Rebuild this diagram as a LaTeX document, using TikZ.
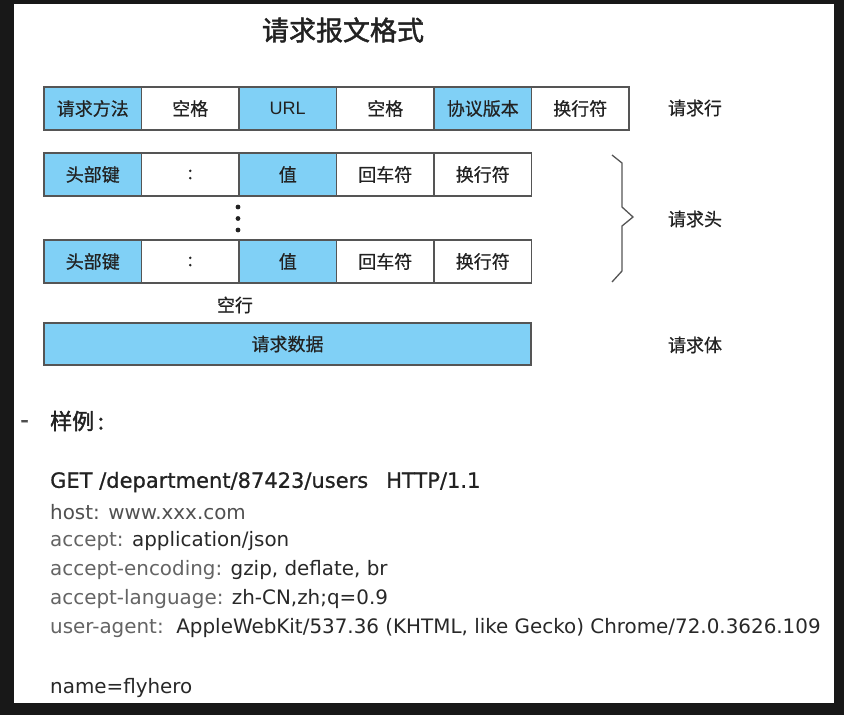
\documentclass[tikz,border=0pt]{standalone}
\usepackage{fontspec}
\setmainfont{Liberation Sans}
\newfontfamily\cjk[FakeBold=0.6]{Noto Sans CJK SC}
\newfontfamily\cjkb[FakeBold=1.6]{Noto Sans CJK SC}
\newfontfamily\codefont{DejaVu Sans}
\newfontfamily\codefontb[FakeBold=0.8]{DejaVu Sans}
\definecolor{cellblue}{RGB}{128,208,246}
\definecolor{bord}{RGB}{85,85,85}
\definecolor{txt}{RGB}{34,34,34}
\definecolor{valgray}{RGB}{40,40,40}
\definecolor{keygray}{RGB}{100,100,100}
\definecolor{frame}{RGB}{24,24,24}
\begin{document}
\begin{tikzpicture}[x=1pt,y=-1pt,
  cell/.style={draw=bord, line width=1.2pt, minimum width=97.5pt, minimum height=43pt, inner sep=0pt, text=txt, font=\cjk\fontsize{18}{18}\selectfont},
  hl/.style={fill=cellblue},
  lab/.style={text=txt, font=\cjk\fontsize{18}{18}\selectfont, inner sep=0pt},
  code/.style={anchor=west, inner sep=0pt, text=valgray, font=\codefont\fontsize{19.9}{19.9}\selectfont},
  bracestyle/.style={draw=bord, line width=1.3pt, line join=miter}]
\useasboundingbox (0,0) rectangle (844,715);
\fill[frame] (0,0) rectangle (844,715);
\fill[white] (14,4) rectangle (834,703);
% title
\node[text=txt, font=\cjkb\fontsize{27}{27}\selectfont, inner sep=0pt] (title) at (343,30) {请求报文格式};
% request line
\node[cell,hl] (a1) at (92.75,108.5) {请求方法};
\node[cell]    (a2) at (190.25,108.5) {空格};
\node[cell,hl] (a3) at (287.75,108.5) {\fontspec{Liberation Sans}URL};
\node[cell]    (a4) at (385.25,108.5) {空格};
\node[cell,hl] (a5) at (482.75,108.5) {协议版本};
\node[cell]    (a6) at (580.25,108.5) {换行符};
% header 1
\node[cell,hl] (b1) at (92.75,174.5) {头部键};
\node[cell]    (b2) at (190.25,174.5) {\raisebox{-1pt}{:}};
\node[cell,hl] (b3) at (287.75,174.5) {值};
\node[cell]    (b4) at (385.25,174.5) {回车符};
\node[cell]    (b5) at (482.75,174.5) {换行符};
% dots
\fill[txt] (238,207) circle (2.4) (238,218.5) circle (2.4) (238,230) circle (2.4);
% header 2
\node[cell,hl] (c1) at (92.75,261.5) {头部键};
\node[cell]    (c2) at (190.25,261.5) {\raisebox{-1pt}{:}};
\node[cell,hl] (c3) at (287.75,261.5) {值};
\node[cell]    (c4) at (385.25,261.5) {回车符};
\node[cell]    (c5) at (482.75,261.5) {换行符};
% blank line
\node[lab] (blank) at (235,305) {空行};
% body
\node[cell,hl,minimum width=487pt,minimum height=42pt] (d1) at (287.5,344) {请求数据};
% brace
\draw[bracestyle] (612,155) -- (622,163) -- (622,207) -- (633,217) -- (622,226) -- (622,271) -- (612,282);
% right labels
\node[lab] (l1) at (695,108) {请求行};
\node[lab] (l2) at (695,219) {请求头};
\node[lab] (l3) at (695,345) {请求体};
% sample
\node[code,text=txt!80,font=\codefontb\fontsize{24}{24}\selectfont] (dash) at (20,424) {-};
\node[lab,anchor=west,text=txt,font=\cjkb\fontsize{22}{22}\selectfont] (ex) at (50,421) {样例\,:};
\node[code,font=\codefontb\fontsize{21}{21}\selectfont,text=txt] (g1) at (50,482) {GET /department/87423/users\hspace{18pt}HTTP/1.1};
\node[code,text=keygray!80!black] (g2) at (50,512) {host: www.xxx.com};
\node[code] (g3) at (50,541) {\textcolor{keygray}{accept:} application/json};
\node[code] (g4) at (50,570) {\textcolor{keygray}{accept-encoding:} gzip, deflate, br};
\node[code] (g5) at (50,599) {\textcolor{keygray}{accept-language:} zh-CN,zh;q=0.9};
\node[code] (g6) at (50,628) {\textcolor{keygray}{user-agent:}\ \ AppleWebKit/537.36 (KHTML, like Gecko) Chrome/72.0.3626.109};
\node[code] (g7) at (50,688) {name=flyhero};
\end{tikzpicture}
\end{document}
